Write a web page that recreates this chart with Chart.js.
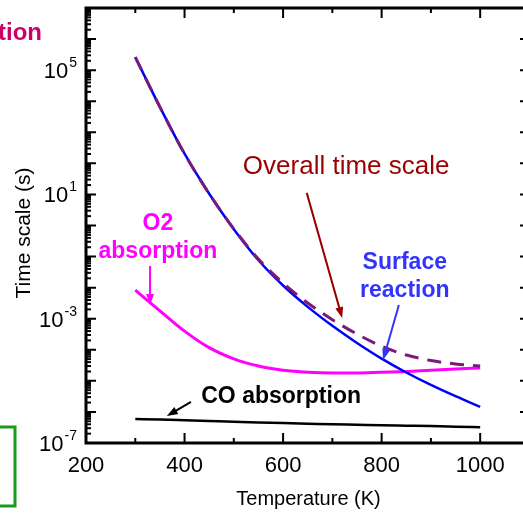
<!DOCTYPE html>
<html>
<head>
<meta charset="utf-8">
<script src="https://cdn.jsdelivr.net/npm/chart.js@4.4.1/dist/chart.umd.min.js"></script>
<style>
    html, body { margin: 0; padding: 0; background: #fff; overflow: hidden; }
    #wrap { width: 526px; height: 514px; position: relative; }
</style>
</head>
<body>
<div id="wrap"><canvas id="timeChart"></canvas></div>
<script>
// temperatures (K)
const temps = [300, 350, 400, 450, 500, 550, 600, 650, 700, 750, 800, 850, 900, 950, 1000];

// time scales (s)
const surfaceReaction = [2.63e5, 6.5e3, 2.04e2, 1.05e1, 7.6e-1, 7.6e-2, 1.17e-2, 2.4e-3, 5.9e-4, 1.66e-4, 5.2e-5, 1.86e-5, 7.4e-6, 3.2e-6, 1.45e-6];
const overallTime     = [2.63e5, 6.5e3, 2.04e2, 1.05e1, 7.8e-1, 8.3e-2, 1.4e-2, 3.2e-3, 9.3e-4, 3.2e-4, 1.3e-4, 6.8e-5, 4.5e-5, 3.5e-5, 3.0e-5];
const o2Absorption    = [8.3e-3, 1.8e-3, 4.0e-4, 1.17e-4, 5.1e-5, 3.0e-5, 2.2e-5, 1.9e-5, 1.8e-5, 1.8e-5, 1.9e-5, 2.0e-5, 2.2e-5, 2.4e-5, 2.6e-5];
const coAbsorption    = [5.9e-7, 5.7e-7, 5.4e-7, 5.1e-7, 4.8e-7, 4.6e-7, 4.4e-7, 4.2e-7, 4.0e-7, 3.85e-7, 3.7e-7, 3.6e-7, 3.5e-7, 3.35e-7, 3.2e-7];

// tick labels
const xTickLabels = [200, 400, 600, 800, 1000];
const xMinorTicks = [300, 500, 700, 900];
const yLabelExps = [-7, -3, 1, 5];

const FONT = "'Liberation Sans', Arial, sans-serif";

function pts(arr) {
    return temps.map((t, i) => ({ x: t, y: arr[i] }));
}

// labels on the plot, placed in data space: [T, log10(time)]
const notes = [
    { lines: ['Overall time scale'], color: '#990000', weight: '', size: 26, at: [728, 1.66], lh: 0,
      arrow: [[648, 1.05], [720, -2.98]] },
    { lines: ['Surface', 'reaction'], color: '#3333ff', weight: 'bold', size: 23, at: [847, -1.40], lh: 28,
      arrow: [[835, -2.56], [803, -4.33]] },
    { lines: ['O2', 'absorption'], color: '#ff00ff', weight: 'bold', size: 23, at: [346, -0.15], lh: 28,
      arrow: [[330, -1.30], [330, -2.56]] },
    { lines: ['CO absorption'], color: '#000000', weight: 'bold', size: 23, at: [596, -5.71], lh: 0,
      arrow: [[413, -5.68], [364, -6.13]] }
];

function drawArrow(ctx, x1, y1, x2, y2, color) {
    const ang = Math.atan2(y2 - y1, x2 - x1);
    const len = 11, w = 4;
    ctx.strokeStyle = color;
    ctx.fillStyle = color;
    ctx.lineWidth = 2;
    ctx.beginPath();
    ctx.moveTo(x1, y1);
    ctx.lineTo(x2 - Math.cos(ang) * len * 0.8, y2 - Math.sin(ang) * len * 0.8);
    ctx.stroke();
    ctx.beginPath();
    ctx.moveTo(x2, y2);
    ctx.lineTo(x2 - Math.cos(ang) * len - Math.sin(ang) * w, y2 - Math.sin(ang) * len + Math.cos(ang) * w);
    ctx.lineTo(x2 - Math.cos(ang) * len + Math.sin(ang) * w, y2 - Math.sin(ang) * len - Math.cos(ang) * w);
    ctx.closePath();
    ctx.fill();
}

const framePlugin = {
    id: 'frame',
    afterDraw(chart) {
        const ctx = chart.ctx;
        const a = chart.chartArea;
        const xs = chart.scales.x, ys = chart.scales.y;
        ctx.save();

        // axis box
        ctx.strokeStyle = '#000';
        ctx.lineWidth = 3;
        ctx.strokeRect(a.left, a.top, a.right - a.left, a.bottom - a.top);

        // x ticks, pointing inward, top and bottom
        ctx.lineWidth = 2;
        xTickLabels.concat(xMinorTicks).forEach(t => {
            const px = xs.getPixelForValue(t);
            const len = xTickLabels.includes(t) ? 10 : 5;
            ctx.beginPath();
            ctx.moveTo(px, a.bottom); ctx.lineTo(px, a.bottom - len);
            ctx.moveTo(px, a.top); ctx.lineTo(px, a.top + len);
            ctx.stroke();
        });

        // y ticks: decades long, 2..9 short on the left; decades only on the right
        for (let n = -7; n <= 7; n++) {
            for (let k = 1; k <= 9; k++) {
                const v = k * Math.pow(10, n);
                if (v > 1e7) break;
                const py = ys.getPixelForValue(v);
                ctx.beginPath();
                ctx.moveTo(a.left, py);
                ctx.lineTo(a.left + (k === 1 ? 10 : 5), py);
                if (k === 1) { ctx.moveTo(a.right, py); ctx.lineTo(a.right - 6, py); }
                ctx.stroke();
            }
        }

        // tick labels
        ctx.fillStyle = '#000';
        ctx.font = '22px ' + FONT;
        ctx.textAlign = 'center';
        ctx.textBaseline = 'alphabetic';
        xTickLabels.forEach(t => {
            ctx.fillText(String(t), xs.getPixelForValue(t), a.bottom + 29);
        });
        yLabelExps.forEach(e => {
            const py = ys.getPixelForValue(Math.pow(10, e));
            const sup = String(e);
            ctx.font = '14px ' + FONT;
            ctx.textAlign = 'right';
            ctx.fillText(sup, a.left - 9, py - 3);
            const sw = ctx.measureText(sup).width;
            ctx.font = '22px ' + FONT;
            ctx.fillText('10', a.left - 10 - sw, py + 8);
        });

        // axis titles
        ctx.font = '20px ' + FONT;
        ctx.textAlign = 'center';
        ctx.fillText('Temperature (K)', (a.left + 523) / 2 + 4, 505);
        ctx.save();
        ctx.translate(30, 233);
        ctx.rotate(-Math.PI / 2);
        ctx.font = '21px ' + FONT;
        ctx.fillText('Time scale (s)', 0, 0);
        ctx.restore();

        // in-plot labels and arrows
        notes.forEach(nt => {
            const cx = xs.getPixelForValue(nt.at[0]);
            const cy = ys.getPixelForValue(Math.pow(10, nt.at[1]));
            ctx.fillStyle = nt.color;
            ctx.font = (nt.weight ? nt.weight + ' ' : '') + nt.size + 'px ' + FONT;
            ctx.textAlign = 'center';
            nt.lines.forEach((ln, i) => ctx.fillText(ln, cx, cy + i * nt.lh));
            const p1 = nt.arrow[0], p2 = nt.arrow[1];
            drawArrow(ctx,
                xs.getPixelForValue(p1[0]), ys.getPixelForValue(Math.pow(10, p1[1])),
                xs.getPixelForValue(p2[0]), ys.getPixelForValue(Math.pow(10, p2[1])),
                nt.color);
        });

        // pieces of neighbouring panels cut by the frame
        ctx.fillStyle = '#cc0066';
        ctx.font = 'bold 24px ' + FONT;
        ctx.textAlign = 'right';
        ctx.fillText('tion', 42, 40);
        ctx.strokeStyle = '#1a9a1a';
        ctx.lineWidth = 3;
        ctx.beginPath();
        ctx.moveTo(-5, 427); ctx.lineTo(15, 427); ctx.lineTo(15, 506); ctx.lineTo(-5, 506);
        ctx.stroke();

        ctx.restore();
    }
};

document.addEventListener('DOMContentLoaded', function () {
    const ctx = document.getElementById('timeChart').getContext('2d');
    new Chart(ctx, {
        type: 'line',
        data: {
            datasets: [
                {
                    label: 'Overall time scale',
                    data: pts(overallTime),
                    borderColor: '#7a1a7a',
                    borderWidth: 3,
                    borderDash: [14, 9],
                    order: 0
                },
                {
                    label: 'Surface reaction',
                    data: pts(surfaceReaction),
                    borderColor: '#0000ff',
                    borderWidth: 2.5,
                    order: 1
                },
                {
                    label: 'O2 absorption',
                    data: pts(o2Absorption),
                    borderColor: '#ff00ff',
                    borderWidth: 3,
                    order: 2
                },
                {
                    label: 'CO absorption',
                    data: pts(coAbsorption),
                    borderColor: '#000000',
                    borderWidth: 2.5,
                    order: 3
                }
            ]
        },
        options: {
            responsive: true,
            maintainAspectRatio: false,
            animation: false,
            events: [],
            elements: {
                point: { radius: 0 },
                line: { cubicInterpolationMode: 'monotone', fill: false }
            },
            layout: { padding: { top: 8, right: 0, bottom: 0, left: 0 } },
            plugins: {
                legend: { display: false },
                tooltip: { enabled: false }
            },
            scales: {
                x: {
                    type: 'linear',
                    min: 200,
                    max: 1093,
                    ticks: { display: false },
                    grid: { display: false },
                    border: { display: false },
                    afterFit: s => { s.height = 71; }
                },
                y: {
                    type: 'logarithmic',
                    min: 1e-7,
                    max: 1e7,
                    ticks: { display: false },
                    grid: { display: false },
                    border: { display: false },
                    afterFit: s => { s.width = 86; }
                }
            }
        },
        plugins: [framePlugin]
    });
});
</script>
</body>
</html>
